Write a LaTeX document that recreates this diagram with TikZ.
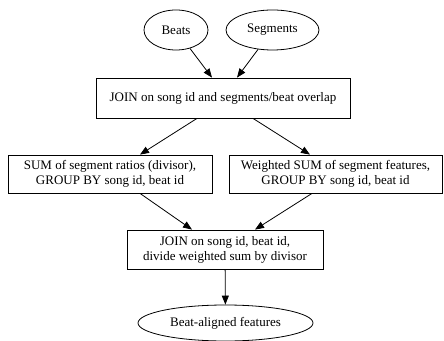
\documentclass[tikz,border=0pt]{standalone}
\usepackage{fontspec}
\setmainfont{Liberation Serif}
\usetikzlibrary{shapes.geometric,arrows.meta}
\begin{document}
\begin{tikzpicture}[x=1pt,y=1pt,
  every node/.style={font=\fontsize{13}{15}\selectfont, inner sep=0pt, draw, line width=0.8pt},
  oval/.style={ellipse},
  box/.style={rectangle, align=center},
  edge/.style={line width=0.8pt, -{Triangle[length=9pt,width=7pt]}}]
\useasboundingbox (0,0) rectangle (444,340);
\node[oval, minimum width=64, minimum height=40] (beats) at (176,310) {Beats};
\node[oval, minimum width=93, minimum height=40] (segs) at (272.5,310) {Segments};
\node[box, minimum width=254, minimum height=40] (join) at (223,242) {JOIN on song id and segments/beat overlap};
\node[box, minimum width=204, minimum height=38] (sum) at (110,166) {SUM of segment ratios (divisor),\\GROUP BY song id, beat id};
\node[box, minimum width=213, minimum height=38] (wsum) at (335.5,166) {Weighted SUM of segment features,\\GROUP BY song id, beat id};
\node[box, minimum width=196, minimum height=39] (join2) at (225,90.5) {JOIN on song id, beat id,\\divide weighted sum by divisor};
\node[oval, minimum width=175, minimum height=36] (out) at (225.5,17) {Beat-aligned features};
\draw[edge] (beats) -- ([xshift=-11]join.north);
\draw[edge] (segs) -- ([xshift=14]join.north);
\draw[edge] ([xshift=-26]join.south) -- ([xshift=30]sum.north);
\draw[edge] ([xshift=30]join.south) -- ([xshift=-25.5]wsum.north);
\draw[edge] ([xshift=30]sum.south) -- ([xshift=-33]join2.north);
\draw[edge] ([xshift=-23.5]wsum.south) -- ([xshift=30]join2.north);
\draw[edge] (join2) -- (out);
\end{tikzpicture}
\end{document}
